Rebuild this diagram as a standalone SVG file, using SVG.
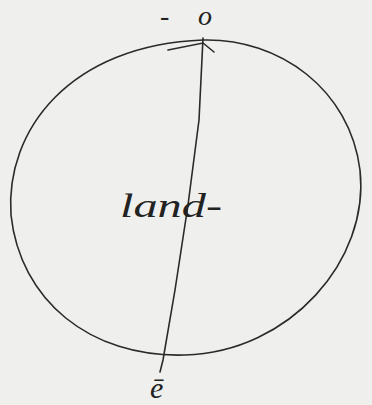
<svg xmlns="http://www.w3.org/2000/svg" width="372" height="405" viewBox="0 0 372 405">
<style>
.ink{fill:none;stroke:#2a2a2a;stroke-width:1.6;stroke-linecap:round}
.t{font-family:"Liberation Serif",serif;font-style:italic;fill:#222}
</style>
<rect width="372" height="405" fill="#efefed"/>
<g id="globe">
<path class="ink" d="M203 40 C280 38 350 90 360 170 C370 260 290 352 185 355 C90 358 20 300 11 215 C5 130 70 45 203 40 Z"/>
</g>
<g id="connectors">
<path class="ink" d="M203 38 L199 120 L188 205 L175 290 L163 360 L160 372"/>
<path class="ink" d="M168 50 L203 43 L214 52"/>
</g>
<g id="label-top">
<text class="t" x="160" y="25" font-size="28" textLength="52" lengthAdjust="spacing">-o</text>
</g>
<g id="label-land">
<text class="t" x="120" y="217" font-size="34" textLength="102" lengthAdjust="spacingAndGlyphs">land-</text>
</g>
<g id="label-bottom">
<text class="t" x="150" y="398" font-size="30">ē</text>
</g>
</svg>
